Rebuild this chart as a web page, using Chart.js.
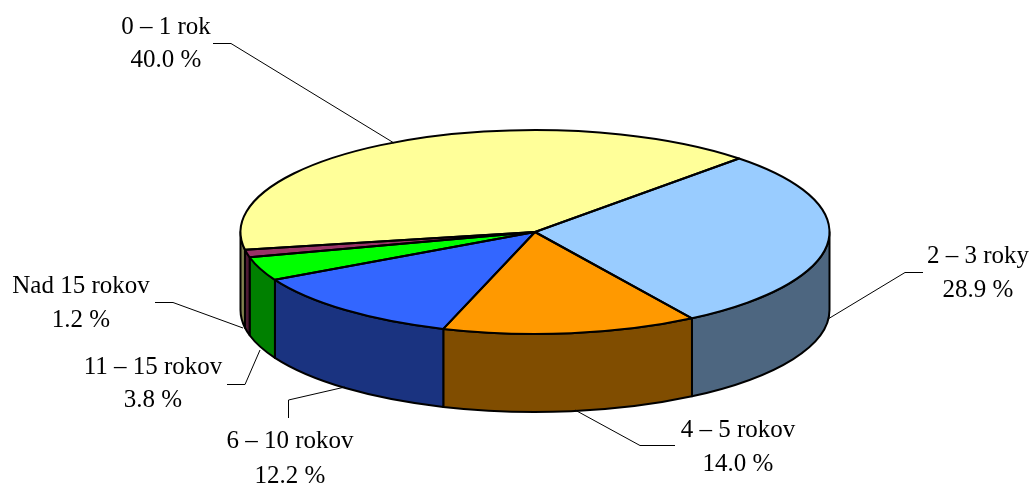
<!DOCTYPE html>
<html>
<head>
<meta charset="utf-8">
<title>Graf</title>
<script src="https://cdn.jsdelivr.net/npm/chart.js@4/dist/chart.umd.min.js"></script>
<style>
    html, body { margin: 0; padding: 0; background: #fff; }
    canvas { display: block; }
</style>
</head>
<body>
<canvas id="mainChart" width="1030" height="484"></canvas>
<script>
// Data
const categories = ['0 – 1 rok', '2 – 3 roky', '4 – 5 rokov', '6 – 10 rokov', '11 – 15 rokov', 'Nad 15 rokov'];
const shares = [40.0, 28.9, 14.0, 12.2, 3.8, 1.2];

// Colours: top face and wall
const topColors = ['#FFFF99', '#99CCFF', '#FF9900', '#3366FF', '#00FF00', '#993366'];
const wallColors = ['#80804D', '#4D6680', '#804D00', '#1A3380', '#008000', '#4D1A33'];

// Label placement: text centre, first and second line y, leader polyline
const labelCenters = [166, 978, 738, 290, 153, 81];
const labelLines = [[27, 60], [256, 290], [430, 464], [441, 476], [367, 400], [286, 320]];
const leaders = [
    [[213, 43.5], [231, 43.5], [394, 143]],
    [[923, 272.5], [905, 272.5], [828, 319]],
    [[675, 445.5], [640, 445.5], [575, 410]],
    [[288.5, 418], [288.5, 400], [345, 387]],
    [[227, 384.5], [245, 384.5], [260, 350]],
    [[155, 302.5], [173, 302.5], [243, 328]]
];

const SQUASH = 102 / 294.5; // tilt of the disc
const DEPTH = 78;           // height of the walls

const pie3d = {
    id: 'pie3d',
    beforeDatasetsDraw(chart) {
        const ctx = chart.ctx;
        const arcs = chart.getDatasetMeta(0).data;
        const first = arcs[0];
        const ry = first.outerRadius * SQUASH;

        // Walls, only the front half of the disc shows them
        ctx.save();
        ctx.strokeStyle = '#000';
        ctx.lineWidth = 2;
        ctx.lineJoin = 'round';
        arcs.forEach((arc, i) => {
            frontRanges(arc.startAngle, arc.endAngle).forEach(([a, b]) => {
                ctx.beginPath();
                ctx.ellipse(arc.x, arc.y, arc.outerRadius, ry, 0, a, b);
                ctx.ellipse(arc.x, arc.y + DEPTH, arc.outerRadius, ry, 0, b, a, true);
                ctx.closePath();
                ctx.fillStyle = wallColors[i];
                ctx.fill();
                ctx.stroke();
            });
        });
        ctx.restore();

        // Top face: the library draws the slices under this squash
        ctx.save();
        ctx.translate(0, first.y);
        ctx.scale(1, SQUASH);
        ctx.translate(0, -first.y);
    },
    afterDatasetsDraw(chart) {
        const ctx = chart.ctx;
        ctx.restore();

        const arcs = chart.getDatasetMeta(0).data;

        // Slice outlines
        ctx.save();
        ctx.strokeStyle = '#000';
        ctx.lineWidth = 2;
        ctx.lineJoin = 'round';
        arcs.forEach(arc => {
            ctx.beginPath();
            ctx.moveTo(arc.x, arc.y);
            ctx.ellipse(arc.x, arc.y, arc.outerRadius, arc.outerRadius * SQUASH, 0, arc.startAngle, arc.endAngle);
            ctx.closePath();
            ctx.stroke();
        });
        ctx.restore();

        // Leaders and labels
        ctx.save();
        ctx.strokeStyle = '#000';
        ctx.lineWidth = 1;
        leaders.forEach(pts => {
            ctx.beginPath();
            pts.forEach((p, k) => k ? ctx.lineTo(p[0], p[1]) : ctx.moveTo(p[0], p[1]));
            ctx.stroke();
        });
        ctx.fillStyle = '#000';
        ctx.font = '25px "Liberation Serif"';
        ctx.textAlign = 'center';
        ctx.textBaseline = 'middle';
        categories.forEach((name, i) => {
            ctx.fillText(name, labelCenters[i], labelLines[i][0]);
            ctx.fillText(shares[i].toFixed(1) + ' %', labelCenters[i], labelLines[i][1]);
        });
        ctx.restore();
    }
};

// Parts of an arc lying on the front half (canvas angles 0..PI)
function frontRanges(start, end) {
    const out = [];
    const TAU = Math.PI * 2;
    for (let k = -2; k <= 2; k++) {
        const a = Math.max(start, k * TAU);
        const b = Math.min(end, k * TAU + Math.PI);
        if (b > a) out.push([a, b]);
    }
    return out;
}

new Chart(document.getElementById('mainChart'), {
    type: 'pie',
    data: {
        labels: categories,
        datasets: [{
            data: shares,
            backgroundColor: topColors,
            borderWidth: 0,
            clip: false
        }]
    },
    options: {
        responsive: false,
        animation: false,
        rotation: 260,
        radius: 294.5,
        layout: { padding: { left: 40, bottom: 20 } },
        plugins: {
            legend: { display: false },
            tooltip: { enabled: false }
        }
    },
    plugins: [pie3d]
});
</script>
</body>
</html>
